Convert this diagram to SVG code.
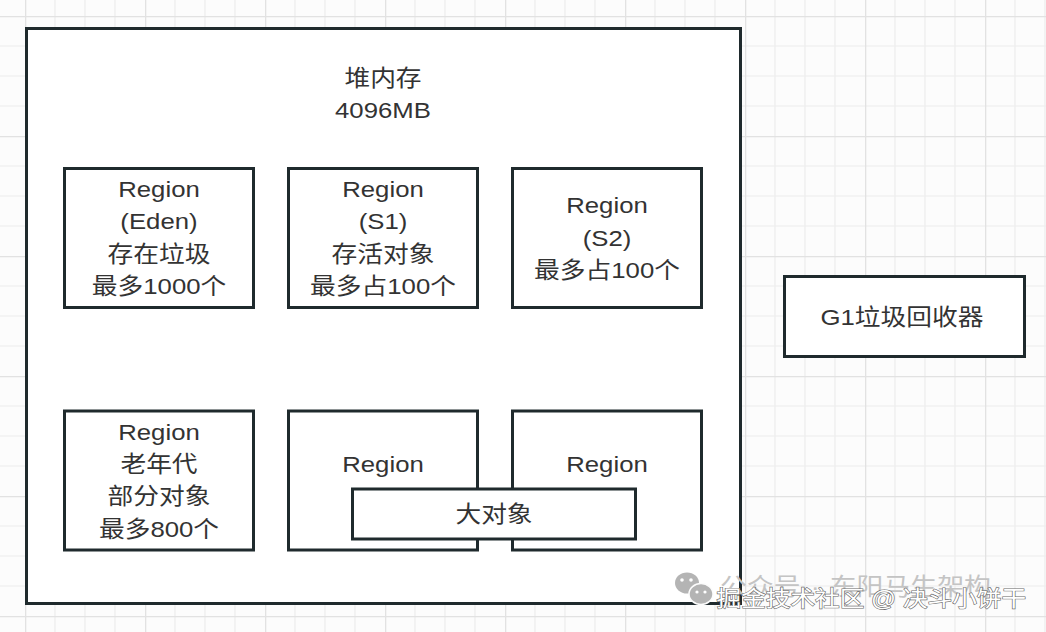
<svg xmlns="http://www.w3.org/2000/svg" width="1046" height="632" viewBox="0 0 1046 632">
<defs>
<pattern id="grid" patternUnits="userSpaceOnUse" x="25" y="16" width="120" height="120">
<rect width="120" height="120" fill="#fcfcfc"/>
<path d="M30 0V120M60 0V120M90 0V120M0 30H120M0 60H120M0 90H120" stroke="#ededed" stroke-width="1.2" fill="none"/>
<path d="M0.5 0V120M0 0.5H120" stroke="#e2e2e2" stroke-width="1.6" fill="none"/>
</pattern>
<style>
.box{fill:#fff;stroke:#1f2a2d;stroke-width:3}
.t{font-family:"Liberation Sans","Noto Sans CJK SC",sans-serif;font-size:23px;fill:#333;text-anchor:middle}
.wm{font-family:"Liberation Sans","Noto Sans CJK SC",sans-serif;font-size:22px}
</style>
</defs>
<rect width="1046" height="632" fill="url(#grid)"/>

<g id="heap">
<rect class="box" x="26.5" y="28.5" width="714" height="575"/>
<text class="t" transform="matrix(1.12 0 0 1 383 0)" y="86">堆内存</text>
<text class="t" transform="matrix(1.12 0 0 1 383 0)" y="118.5">4096MB</text>
</g>

<g id="region-eden">
<rect class="box" x="64.5" y="168.5" width="189" height="139"/>
<text class="t" transform="matrix(1.12 0 0 1 159 0)" y="197">Region</text>
<text class="t" transform="matrix(1.12 0 0 1 159 0)" y="229.5">(Eden)</text>
<text class="t" transform="matrix(1.12 0 0 1 159 0)" y="262">存在垃圾</text>
<text class="t" transform="matrix(1.12 0 0 1 159 0)" y="294.5">最多1000个</text>
</g>

<g id="region-s1">
<rect class="box" x="288.5" y="168.5" width="189" height="139"/>
<text class="t" transform="matrix(1.12 0 0 1 383 0)" y="197">Region</text>
<text class="t" transform="matrix(1.12 0 0 1 383 0)" y="229.5">(S1)</text>
<text class="t" transform="matrix(1.12 0 0 1 383 0)" y="262">存活对象</text>
<text class="t" transform="matrix(1.12 0 0 1 383 0)" y="294.5">最多占100个</text>
</g>

<g id="region-s2">
<rect class="box" x="512.5" y="168.5" width="189" height="139"/>
<text class="t" transform="matrix(1.12 0 0 1 607 0)" y="213.5">Region</text>
<text class="t" transform="matrix(1.12 0 0 1 607 0)" y="246">(S2)</text>
<text class="t" transform="matrix(1.12 0 0 1 607 0)" y="278.5">最多占100个</text>
</g>

<g id="region-old">
<rect class="box" x="64.5" y="411" width="189" height="139"/>
<text class="t" transform="matrix(1.12 0 0 1 159 0)" y="440">Region</text>
<text class="t" transform="matrix(1.12 0 0 1 159 0)" y="472">老年代</text>
<text class="t" transform="matrix(1.12 0 0 1 159 0)" y="504.5">部分对象</text>
<text class="t" transform="matrix(1.12 0 0 1 159 0)" y="537">最多800个</text>
</g>

<g id="region-5">
<rect class="box" x="288.5" y="411" width="189" height="139"/>
<text class="t" transform="matrix(1.12 0 0 1 383 0)" y="472">Region</text>
</g>

<g id="region-6">
<rect class="box" x="512.5" y="411" width="189" height="139"/>
<text class="t" transform="matrix(1.12 0 0 1 607 0)" y="472">Region</text>
</g>

<g id="large-object">
<rect class="box" x="352.5" y="489" width="283" height="50"/>
<text class="t" transform="matrix(1.12 0 0 1 494 0)" y="522">大对象</text>
</g>

<g id="g1-collector">
<rect class="box" x="784.5" y="276.5" width="240" height="80"/>
<text class="t" transform="matrix(1.12 0 0 1 902 0)" y="325">G1垃圾回收器</text>
</g>

<g id="connectors"></g>

<g id="watermark">
<ellipse cx="687" cy="583" rx="12" ry="10.5" fill="#b4b4b4"/>
<ellipse cx="701" cy="594" rx="12" ry="10.5" fill="#b4b4b4" stroke="#fcfcfc" stroke-width="1.5"/>
<circle cx="682" cy="580" r="1.8" fill="#fff"/>
<circle cx="691" cy="580" r="1.8" fill="#fff"/>
<circle cx="697" cy="592" r="1.6" fill="#fff"/>
<circle cx="705" cy="592" r="1.6" fill="#fff"/>
<text class="wm" style="font-size:24px" fill="#c4c4c4" transform="matrix(1.12 0 0 1 720 0)" y="595">公众号<tspan dx="9">·</tspan><tspan dx="9">东阳马生架构</tspan></text>
<text class="wm" fill="#ffffff" stroke="#6a6a6a" stroke-width="1.2" paint-order="stroke" transform="matrix(1.12 0 0 1 716.5 0)" y="606">掘金技术社区 @ 决斗小饼干</text>
</g>
</svg>
